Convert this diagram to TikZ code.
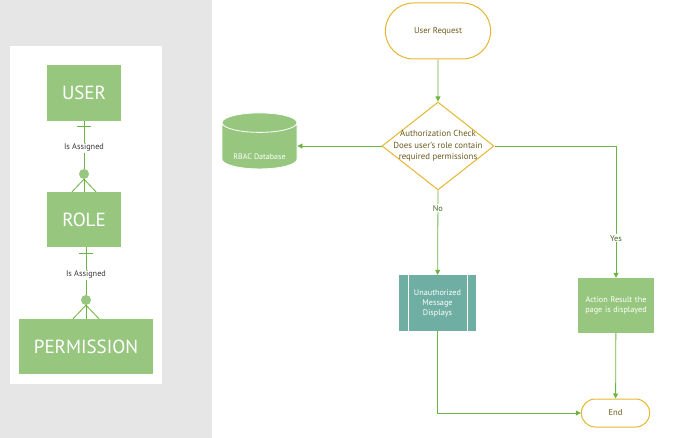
\documentclass[tikz,border=0pt]{standalone}
\usepackage{fontspec}
\setmainfont{PT Sans}
\usetikzlibrary{shapes.geometric, shapes.misc, arrows.meta}
\definecolor{panelgray}{HTML}{E6E6E6}
\definecolor{boxgreen}{HTML}{97C77F}
\definecolor{linegreen}{HTML}{6DB33F}
\definecolor{gold}{HTML}{E5B730}
\definecolor{olive}{HTML}{6B5A1E}
\definecolor{teal}{HTML}{6FAFA3}
\definecolor{darktext}{HTML}{3A3A3A}

\begin{document}
\begin{tikzpicture}[x=1pt, y=-1pt,
  entity/.style={fill=boxgreen, text=white, font=\fontsize{19}{19}\selectfont, inner sep=0pt},
  relation/.style={draw=linegreen, line width=0.8pt},
  assign/.style={fill=white, text=darktext, font=\fontsize{8.3}{9}\selectfont, inner sep=1pt},
  flow/.style={draw=linegreen, line width=0.8pt, -{Triangle[length=5pt, width=5pt]}},
  terminal/.style={rounded rectangle, draw=gold, line width=1pt, fill=white, text=olive, font=\fontsize{8.6}{9}\selectfont},
  decision/.style={diamond, draw=gold, line width=1pt, fill=white, text=olive, align=center, inner sep=-7pt, font=\fontsize{8.8}{11.5}\selectfont},
  process/.style={fill=boxgreen, text=white, align=center, text width=70pt, font=\fontsize{8.2}{10}\selectfont},
  branch/.style={fill=white, text=linegreen!60!black, font=\fontsize{8.3}{9}\selectfont, inner sep=1pt}]
\useasboundingbox (0,0) rectangle (690,438);
\fill[panelgray] (0,0) rectangle (212,438);
\fill[white] (10,46) rectangle (162,384);

% ER part
\node[entity, minimum width=74pt, minimum height=56pt] (user) at (84,93) {USER};
\node[entity, minimum width=74pt, minimum height=55pt] (role) at (84,219.5) {ROLE};
\node[entity, minimum width=134pt, minimum height=55pt] (perm) at (86,346.5) {PERMISSION};
\node[circle, fill=boxgreen, minimum size=10pt, inner sep=0pt] (dot1) at (84,174) {};
\node[circle, fill=boxgreen, minimum size=10pt, inner sep=0pt] (dot2) at (86,300) {};

\draw[relation] (user.south) -- (dot1.north) node[assign, pos=0.56]{Is Assigned};
\draw[relation] (77,126) -- (91,126);
\draw[relation] (dot1.south) -- ([xshift=-12pt]role.north);
\draw[relation] (dot1.south) -- (role.north);
\draw[relation] (dot1.south) -- ([xshift=12pt]role.north);
\draw[relation] (role.south -| dot2) -- (dot2.north) node[assign, pos=0.58]{Is Assigned};
\draw[relation] (79,253) -- (93,253);
\draw[relation] (dot2.south) -- ([xshift=-13pt]perm.north);
\draw[relation] (dot2.south) -- (perm.north);
\draw[relation] (dot2.south) -- ([xshift=13pt]perm.north);

% flowchart
\node[terminal, minimum width=112pt, minimum height=56pt] (request) at (438,31) {User Request};
\node[decision, minimum width=112pt, minimum height=88pt, aspect=1.27] (check) at (438,146)
  {Authorization Check\\Does user's role contain\\required permissions};
\node[cylinder, shape border rotate=90, aspect=0.35, fill=boxgreen, draw=white, line width=0.8pt,
  minimum width=75pt, minimum height=56pt, font=\fontsize{7.5}{8}\selectfont,
  label={[text=white, font=\fontsize{8}{8}\selectfont, yshift=-9pt]center:RBAC Database}] (rbac) at (259.5,148) {\phantom{RBAC Database}};
\node[process, fill=teal, minimum width=73pt, minimum height=56pt,
  path picture={\draw[white, line width=0.8pt] ([xshift=9pt]path picture bounding box.north west) -- ([xshift=9pt]path picture bounding box.south west);
  \draw[white, line width=0.8pt] ([xshift=-8pt]path picture bounding box.north east) -- ([xshift=-8pt]path picture bounding box.south east);}] (unauth) at (437.5,303) {Unauthorized\\Message\\Displays};
\node[process, minimum width=74pt, minimum height=55pt] (action) at (616,305.5) {Action Result the\\page is displayed\\[18pt]};
\node[terminal, minimum width=75pt, minimum height=28pt] (end) at (615.5,413) {End};

\draw[flow] (request) -- (check);
\draw[flow] (check.west) -- (check.west -| rbac.east);
\draw[flow] (check.south) -- (unauth) node[branch, pos=0.21]{No};
\draw[flow] (check.east) -| (action.north) node[branch, pos=0.85]{Yes};
\draw[flow] (action) -- (end);
\draw[flow] (unauth.south) |- (end.west);
\end{tikzpicture}
\end{document}
